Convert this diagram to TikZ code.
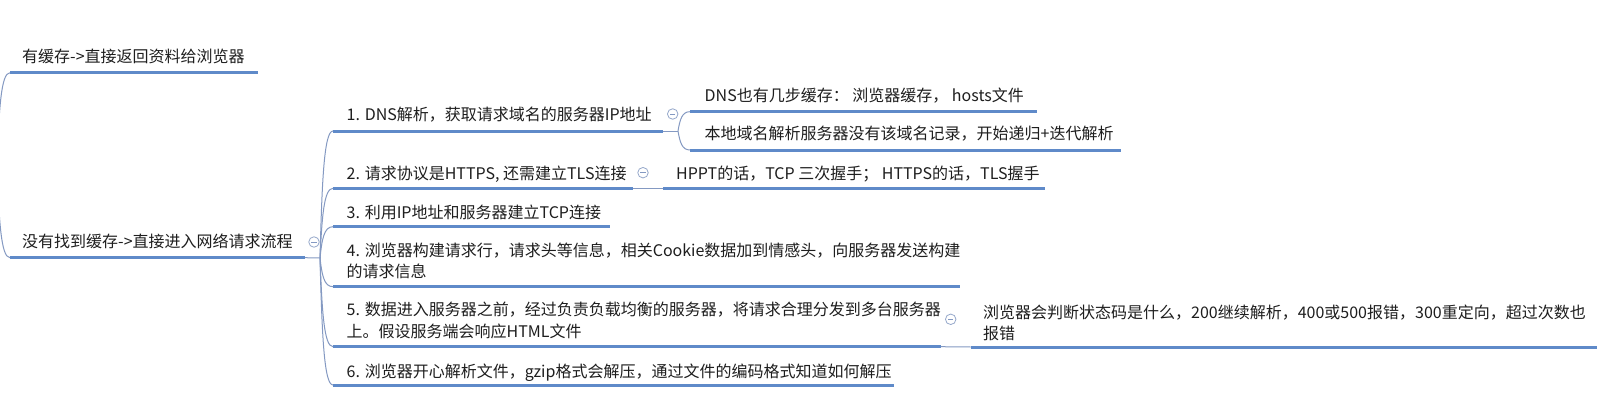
\documentclass[tikz,border=0pt]{standalone}
\usepackage{fontspec}
\setmainfont{Noto Sans CJK SC}
\definecolor{ulc}{HTML}{5F8AC9}
\definecolor{cnc}{HTML}{8499C2}
\definecolor{txc}{HTML}{1E1E1E}
\tikzset{
  topic/.style={anchor=base west, inner sep=0pt, text=txc, font=\fontsize{16}{20}\selectfont},
  uline/.style={draw=ulc, line width=3pt},
  conn/.style={draw=cnc, line width=1pt},
  fold/.style={circle, draw=cnc!85, line width=0.8pt, minimum size=10.5pt, inner sep=0pt, fill=white,
    path picture={\draw[cnc, line width=0.8pt] ([xshift=-2.6pt]path picture bounding box.center) -- ([xshift=2.6pt]path picture bounding box.center);}},
}
\begin{document}
\begin{tikzpicture}[x=1pt,y=-1pt]
\useasboundingbox (0,0) rectangle (1620,420);
\clip (0,0) rectangle (1620,420);
\fill[white] (0,0) rectangle (1620,420);

% junctions and underline ends
\coordinate (J0) at (-3,165);
\coordinate (J2) at (320,258);
\coordinate (J1) at (678,131);

\coordinate (r1l) at (10,72.7);   \coordinate (r1r) at (258,72.7);
\coordinate (r2l) at (10,257.7);  \coordinate (r2r) at (305,257.7);
\coordinate (a1l) at (333,131);   \coordinate (a1r) at (662.7,131);
\coordinate (a2l) at (333,188.3); \coordinate (a2r) at (633,188.3);
\coordinate (a3l) at (333,226.7); \coordinate (a3r) at (610,226.7);
\coordinate (a4l) at (333,286.7); \coordinate (a4r) at (960,286.7);
\coordinate (a5l) at (333,346.7); \coordinate (a5r) at (940.7,346.7);
\coordinate (a6l) at (333,385);   \coordinate (a6r) at (894,385);
\coordinate (d1l) at (690,111.7); \coordinate (d1r) at (1036.7,111.7);
\coordinate (d2l) at (690,150);   \coordinate (d2r) at (1120.7,150);
\coordinate (hl) at (663,188.3);  \coordinate (hr) at (1045,188.3);
\coordinate (sl) at (970.7,347);  \coordinate (sr) at (1597,347);

% texts
\node[topic] (r1) at (22,62.7) {有缓存->直接返回资料给浏览器};
\node[topic] (r2) at (22,247.7) {没有找到缓存->直接进入网络请求流程};
\node[topic] (t1) at (346.5,121) {1. DNS解析，获取请求域名的服务器IP地址};
\node[topic] (t2) at (346.5,179.3) {2. 请求协议是HTTPS, 还需建立TLS连接};
\node[topic] (t3) at (346.5,218) {3. 利用IP地址和服务器建立TCP连接};
\node[topic] (t4a) at (346.5,256.5) {4. 浏览器构建请求行，请求头等信息，相关Cookie数据加到情感头，向服务器发送构建};
\node[topic] (t4b) at (346.5,277.7) {的请求信息};
\node[topic] (t5a) at (346.5,315) {5. 数据进入服务器之前，经过负责负载均衡的服务器，将请求合理分发到多台服务器};
\node[topic] (t5b) at (346.5,337.7) {上。假设服务端会响应HTML文件};
\node[topic] (t6) at (346.5,377.7) {6. 浏览器开心解析文件，gzip格式会解压，通过文件的编码格式知道如何解压};
\node[topic] (d1) at (704.5,102) {DNS也有几步缓存： 浏览器缓存， hosts文件};
\node[topic] (d2) at (704.5,139.3) {本地域名解析服务器没有该域名记录，开始递归+迭代解析};
\node[topic] (h) at (676,179.3) {HPPT的话，TCP 三次握手； HTTPS的话，TLS握手};
\node[topic] (sa) at (983,318) {浏览器会判断状态码是什么，200继续解析，400或500报错，300重定向，超过次数也};
\node[topic] (sb) at (983,339.5) {报错};

% underlines
\foreach \n in {r1,r2,a1,a2,a3,a4,a5,a6,d1,d2,h,s} {\draw[uline] (\n l) -- (\n r);}

% connectors
\draw[conn] (J0) .. controls (-1,109.5) and (1,72.7) .. (r1l);
\draw[conn] (J0) .. controls (-1,220.6) and (1,257.7) .. (r2l);
\draw[conn] (r2r) -- (J2);
\draw[conn] (J2) .. controls (322,182) and (324,131) .. (a1l);
\draw[conn] (J2) .. controls (322,216.2) and (324,188.3) .. (a2l);
\draw[conn] (J2) .. controls (322,239.2) and (324,226.7) .. (a3l);
\draw[conn] (J2) .. controls (322,275.2) and (324,286.7) .. (a4l);
\draw[conn] (J2) .. controls (322,311.2) and (324,346.7) .. (a5l);
\draw[conn] (J2) .. controls (322,334.2) and (324,385) .. (a6l);
\draw[conn] (a1r) -- (J1);
\draw[conn] (J1) .. controls (680,119.4) and (682,111.7) .. (d1l);
\draw[conn] (J1) .. controls (680,142.4) and (682,150) .. (d2l);
\draw[conn] (a2r) -- (hl);
\draw[conn] (a5r) -- (sl);

% fold markers
\node[fold] (f0) at (314,242) {};
\node[fold] (f1) at (672.7,114) {};
\node[fold] (f2) at (643,172.7) {};
\node[fold] (f5) at (950.7,319.3) {};
\end{tikzpicture}
\end{document}
